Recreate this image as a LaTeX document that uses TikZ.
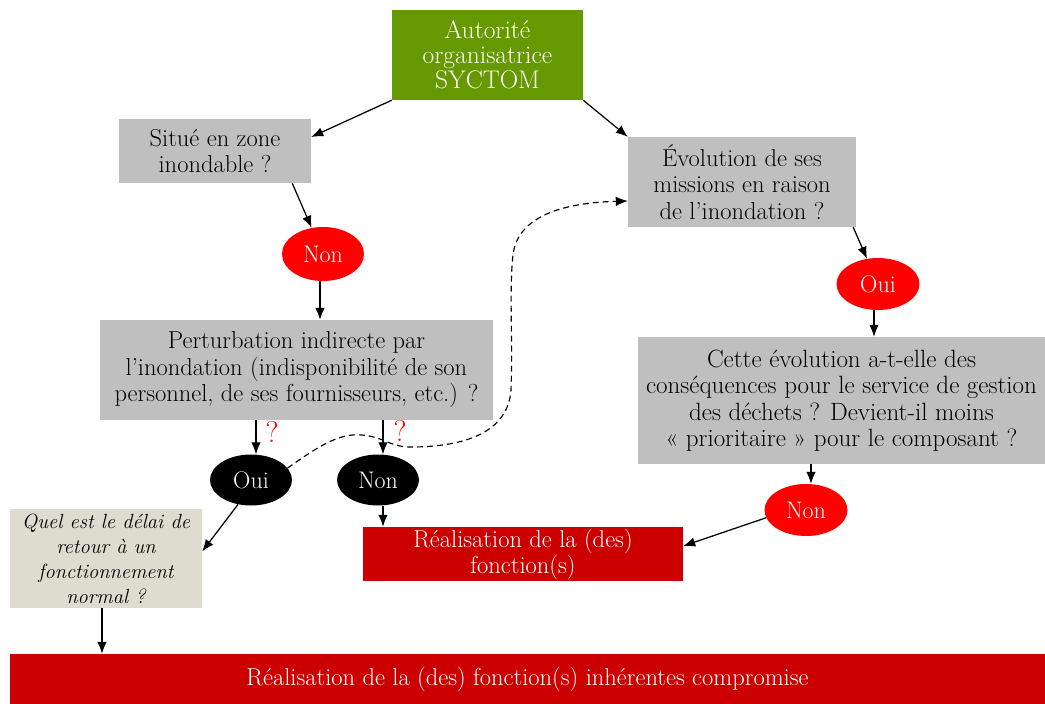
\documentclass[tikz,border=0pt]{standalone}
\usepackage{fontspec}
\usetikzlibrary{shapes.geometric,arrows.meta,calc}
\definecolor{cgreen}{RGB}{102,153,0}
\definecolor{cgrey}{RGB}{191,191,191}
\definecolor{cred}{RGB}{255,0,0}
\definecolor{cdark}{RGB}{204,0,0}
\definecolor{cbeige}{RGB}{221,220,207}
\tikzset{
  box/.style={rectangle,inner sep=0pt,align=center,font=\fontsize{24.5}{26.5}\selectfont},
  ell/.style={ellipse,inner sep=0pt,text=white,font=\fontsize{24}{24}\selectfont},
  arr/.style={-{Latex[length=12pt,width=9.5pt]},line width=1.25pt},
  dsh/.style={-{Latex[length=12pt,width=9.5pt]},line width=1.15pt,dash pattern=on 6pt off 4pt},
  qm/.style={text=cred,font=\fontsize{30}{30}\selectfont,inner sep=0pt}
}
\begin{document}
\begin{tikzpicture}[x=1pt,y=-1pt]
\useasboundingbox (0,0) rectangle (1045,704);
% boxes
\node[box,fill=cgreen,text=white,minimum width=191pt,minimum height=90pt,font=\fontsize{25.5}{25}\selectfont] (green) at (487.5,55) {Autorité\\organisatrice\\SYCTOM};
\node[box,fill=cgrey,minimum width=192pt,minimum height=64pt] (situe) at (215,151) {Situé en zone\\inondable ?};
\node[box,fill=cgrey,minimum width=228pt,minimum height=90pt] (evol) at (742,182) {Évolution de ses\\missions en raison\\de l’inondation ?};
\node[box,fill=cgrey,minimum width=393pt,minimum height=100pt] (pert) at (296.5,370) {Perturbation indirecte par\\l’inondation (indisponibilité de son\\personnel, de ses fournisseurs, etc.) ?};
\node[box,fill=cgrey,minimum width=407pt,minimum height=127pt,font=\fontsize{25}{26.5}\selectfont] (cette) at (841.5,400.5) {Cette évolution a-t-elle des\\conséquences pour le service de gestion\\des déchets ? Devient-il moins\\« prioritaire » pour le composant ?};
\node[box,fill=cbeige,minimum width=192pt,minimum height=99pt,font=\fontsize{20.5}{25}\selectfont\itshape] (quel) at (106,558.5) {Quel est le délai de\\retour à un\\fonctionnement\\normal ?};
\node[box,fill=cdark,text=white,minimum width=320pt,minimum height=54pt,font=\fontsize{24.5}{26}\selectfont] (real) at (523,554) {Réalisation de la (des)\\fonction(s)};
\node[box,fill=cdark,text=white,minimum width=1035pt,minimum height=50pt] (bottom) at (527.5,679) {Réalisation de la (des) fonction(s) inhérentes compromise};
% ellipses
\node[ell,fill=cred,minimum width=82pt,minimum height=54pt] (nonA) at (323,254) {Non};
\node[ell,fill=cred,minimum width=83pt,minimum height=52pt] (ouiB) at (878,284) {Oui};
\node[ell,fill=black,minimum width=82pt,minimum height=51pt] (ouiK) at (251,480) {Oui};
\node[ell,fill=black,minimum width=82pt,minimum height=51pt] (nonK) at (378,480) {Non};
\node[ell,fill=cred,minimum width=83pt,minimum height=52pt] (nonC) at (806,510) {Non};
% question marks
\node[qm] (q1) at (272,432) {?};
\node[qm] (q2) at (400,431) {?};
% arrows
\draw[arr] (green.south west) -- ($(situe.east)+(0,-14)$);
\draw[arr] (green.south east) -- (evol.north west);
\draw[arr] ($(situe.south east)+(-19,0)$) -- (nonA);
\draw[arr] ($(nonA.south)+(-3,0)$) -- ($(nonA.south |- pert.north)+(-3,0)$);
\draw[arr] ($(evol.south east)+(-3,0)$) -- (ouiB);
\draw[arr] ($(ouiB.south)+(-4,0)$) -- ($(ouiB.south |- cette.north)+(-4,0)$);
\draw[arr] ($(pert.south -| ouiK.north)+(5,0)$) -- ($(ouiK.north)+(5,0)$);
\draw[arr] ($(pert.south -| nonK.north)+(5,0)$) -- ($(nonK.north)+(5,0)$);
\draw[arr] (ouiK.242) -- ($(quel.east)+(0,-7)$);
\draw[arr] ($(nonK.south)+(5,0)$) -- ($(nonK.south |- real.north)+(5,0)$);
\draw[arr] ($(cette.south -| nonC.north)+(5,0)$) -- ($(nonC.north)+(5,0)$);
\draw[arr] (nonC.191) -- ($(real.east)+(0,-8)$);
\draw[arr] ($(quel.south)+(-4,0)$) -- ($(quel.south |- bottom.north)+(-4,0)$);
% dashed connector
\draw[dsh] (ouiK.18) .. controls (320,445) and (340,433) .. (362,435)
  .. controls (385,437) and (390,448) .. (415,447)
  .. controls (470,446) and (508,430) .. (511,390)
  .. controls (513,340) and (509,290) .. (513,255)
  .. controls (517,220) and (555,203) .. ($(evol.west)+(0,19)$);
\end{tikzpicture}
\end{document}
